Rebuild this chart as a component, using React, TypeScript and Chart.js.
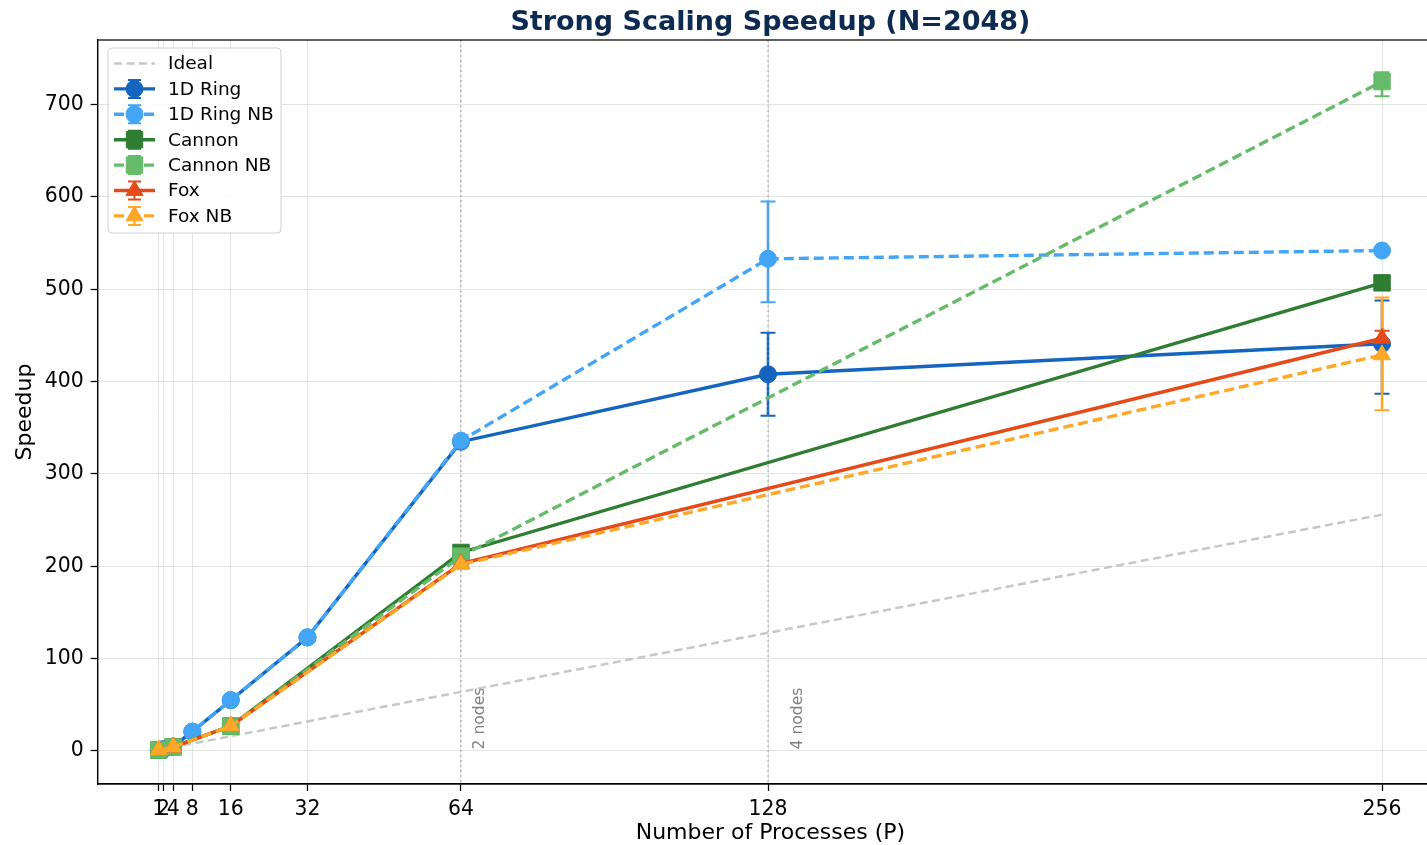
import React, { useEffect, useRef } from "react";
import { Chart, registerables } from "chart.js";

Chart.register(...registerables);

// ---------- data ----------
const ringProcs = [1, 2, 4, 8, 16, 32, 64, 128, 256];
const gridProcs = [1, 4, 16, 64, 256];
const idealSpeedup = [1, 2, 4, 8, 16, 32, 64, 128, 256];

const ring1D = [1, 2, 4.9, 21, 55, 123, 335, 408, 441];
const ring1DErrLow = [0, 0, 0, 0.5, 1, 2, 3, 45, 54];
const ring1DErrHigh = [0, 0, 0, 0.5, 1, 2, 3, 45, 47];
const ring1DNB = [1, 2, 4.9, 21, 55, 123, 336, 533, 542];
const ring1DNBErrLow = [0, 0, 0, 0.5, 1, 2, 6, 47, 3];
const ring1DNBErrHigh = [0, 0, 0, 0.5, 1, 2, 6, 62, 3];

const cannon = [1, 4.5, 27, 215, 507];
const cannonErrLow = [0, 0, 0.5, 5, 3];
const cannonErrHigh = [0, 0, 0.5, 5, 3];
const cannonNB = [1, 4.5, 27, 211, 725];
const cannonNBErrLow = [0, 0, 0.5, 2, 16];
const cannonNBErrHigh = [0, 0, 0.5, 2, 10];

const fox = [1, 4.3, 27, 203, 447];
const foxErrLow = [0, 0, 0.5, 1, 7];
const foxErrHigh = [0, 0, 0.5, 1, 8];
const foxNB = [1, 4.3, 27, 202, 429];
const foxNBErrLow = [0, 0, 0.5, 1, 60];
const foxNBErrHigh = [0, 0, 0.5, 1, 62];

const xTickValues = [1, 2, 4, 8, 16, 32, 64, 128, 256];
const yTickValues = [0, 100, 200, 300, 400, 500, 600, 700];

const nodeLineX = [64, 128];
const nodeLabels = ["2 nodes", "4 nodes"];
const nodeLabelX = [68, 134.3];

const titleText = "Strong Scaling Speedup (N=2048)";
const xLabel = "Number of Processes (P)";
const yLabel = "Speedup";

type Series = {
  label: string;
  x: number[];
  y: number[];
  lo: number[];
  hi: number[];
  color: string;
  dashed: boolean;
  marker: "circle" | "rect" | "triangle";
};

const seriesList: Series[] = [
  { label: "1D Ring", x: ringProcs, y: ring1D, lo: ring1DErrLow, hi: ring1DErrHigh, color: "#1565C0", dashed: false, marker: "circle" },
  { label: "1D Ring NB", x: ringProcs, y: ring1DNB, lo: ring1DNBErrLow, hi: ring1DNBErrHigh, color: "#42A5F5", dashed: true, marker: "circle" },
  { label: "Cannon", x: gridProcs, y: cannon, lo: cannonErrLow, hi: cannonErrHigh, color: "#2E7D32", dashed: false, marker: "rect" },
  { label: "Cannon NB", x: gridProcs, y: cannonNB, lo: cannonNBErrLow, hi: cannonNBErrHigh, color: "#66BB6A", dashed: true, marker: "rect" },
  { label: "Fox", x: gridProcs, y: fox, lo: foxErrLow, hi: foxErrHigh, color: "#E64A19", dashed: false, marker: "triangle" },
  { label: "Fox NB", x: gridProcs, y: foxNB, lo: foxNBErrLow, hi: foxNBErrHigh, color: "#FFA726", dashed: true, marker: "triangle" },
];

const FONT = "'DejaVu Sans', 'Liberation Sans', sans-serif";
const LINE_W = 3.4;
const LINE_DASH = [10, 5];
const IDEAL_DASH = [8, 4.5];
const IDEAL_COLOR = "#c8c8c8";

function markerRadius(m: string) {
  if (m === "rect") return 11.6;
  if (m === "triangle") return 9.8;
  return 8.5;
}

function drawMarker(ctx: CanvasRenderingContext2D, m: string, x: number, y: number, color: string) {
  ctx.save();
  ctx.setLineDash([]);
  ctx.fillStyle = color;
  ctx.strokeStyle = color;
  ctx.lineWidth = 1;
  ctx.beginPath();
  if (m === "circle") {
    ctx.arc(x, y, 8.5, 0, Math.PI * 2);
  } else if (m === "rect") {
    ctx.rect(x - 8.2, y - 8.2, 16.4, 16.4);
  } else {
    const r = 9.8;
    for (let k = 0; k < 3; k++) {
      const a = (k * 2 * Math.PI) / 3;
      const px = x + Math.sin(a) * r;
      const py = y - Math.cos(a) * r;
      if (k === 0) ctx.moveTo(px, py);
      else ctx.lineTo(px, py);
    }
    ctx.closePath();
  }
  ctx.fill();
  ctx.stroke();
  ctx.restore();
}

const decorPlugin = {
  id: "decor",
  beforeDatasetsDraw(chart: any) {
    const { ctx, chartArea, scales } = chart;
    const xs = scales.x;
    const ys = scales.y;
    ctx.save();
    ctx.beginPath();
    ctx.rect(chartArea.left, chartArea.top, chartArea.right - chartArea.left, chartArea.bottom - chartArea.top);
    ctx.clip();
    // error bars
    seriesList.forEach((s) => {
      s.y.forEach((v, i) => {
        const lo = s.lo[i];
        const hi = s.hi[i];
        if (!lo && !hi) return;
        const px = xs.getPixelForValue(s.x[i]);
        const top = ys.getPixelForValue(v + hi);
        const bot = ys.getPixelForValue(v - lo);
        ctx.setLineDash([]);
        ctx.strokeStyle = s.color;
        ctx.lineWidth = 2.6;
        ctx.beginPath();
        ctx.moveTo(px, top);
        ctx.lineTo(px, bot);
        ctx.stroke();
        ctx.lineWidth = 2;
        ctx.beginPath();
        ctx.moveTo(px - 7.5, top);
        ctx.lineTo(px + 7.5, top);
        ctx.moveTo(px - 7.5, bot);
        ctx.lineTo(px + 7.5, bot);
        ctx.stroke();
      });
    });
    // node lines
    nodeLineX.forEach((v, i) => {
      const px = xs.getPixelForValue(v);
      ctx.strokeStyle = "rgba(140,140,140,0.4)";
      ctx.lineWidth = 2;
      ctx.setLineDash([2, 3]);
      ctx.beginPath();
      ctx.moveTo(px, chartArea.top);
      ctx.lineTo(px, chartArea.bottom);
      ctx.stroke();
      ctx.setLineDash([]);
      const tx = xs.getPixelForValue(nodeLabelX[i]);
      const ty = ys.getPixelForValue(0) - 1.5;
      ctx.save();
      ctx.translate(tx, ty);
      ctx.rotate(-Math.PI / 2);
      ctx.fillStyle = "#808080";
      ctx.font = `15.6px ${FONT}`;
      ctx.textAlign = "left";
      ctx.textBaseline = "middle";
      ctx.fillText(nodeLabels[i], 0, 0);
      ctx.restore();
    });
    ctx.restore();
  },
  afterDraw(chart: any) {
    const { ctx, chartArea } = chart;
    ctx.save();
    // spines
    ctx.strokeStyle = "#000";
    ctx.lineWidth = 1.25;
    ctx.setLineDash([]);
    ctx.strokeRect(chartArea.left, chartArea.top, chartArea.right - chartArea.left, chartArea.bottom - chartArea.top);
    const cx = (chartArea.left + chartArea.right) / 2;
    // title
    ctx.fillStyle = "#0d2a50";
    ctx.font = `bold 27px ${FONT}`;
    ctx.textAlign = "center";
    ctx.textBaseline = "alphabetic";
    ctx.fillText(titleText, cx, 30);
    // axis labels
    ctx.fillStyle = "#000";
    ctx.font = `22px ${FONT}`;
    ctx.fillText(xLabel, cx, 839);
    ctx.save();
    ctx.translate(31, (chartArea.top + chartArea.bottom) / 2);
    ctx.rotate(-Math.PI / 2);
    ctx.fillText(yLabel, 0, 0);
    ctx.restore();

    // legend
    const lx = 108, ly = 48, lw = 173, lh = 185, r = 4;
    ctx.beginPath();
    ctx.moveTo(lx + r, ly);
    ctx.arcTo(lx + lw, ly, lx + lw, ly + lh, r);
    ctx.arcTo(lx + lw, ly + lh, lx, ly + lh, r);
    ctx.arcTo(lx, ly + lh, lx, ly, r);
    ctx.arcTo(lx, ly, lx + lw, ly, r);
    ctx.closePath();
    ctx.fillStyle = "rgba(255,255,255,0.85)";
    ctx.fill();
    ctx.strokeStyle = "#d0d0d0";
    ctx.lineWidth = 1;
    ctx.stroke();

    const rowH = 25.4;
    const x0 = 114, x1 = 155, xm = 134.5, tx = 168;
    ctx.font = `18.5px ${FONT}`;
    ctx.textAlign = "left";
    ctx.textBaseline = "middle";
    // ideal
    let ry = 63.5;
    ctx.strokeStyle = IDEAL_COLOR;
    ctx.lineWidth = 2.5;
    ctx.setLineDash(IDEAL_DASH);
    ctx.beginPath();
    ctx.moveTo(x0, ry);
    ctx.lineTo(x1, ry);
    ctx.stroke();
    ctx.setLineDash([]);
    ctx.fillStyle = "#000";
    ctx.fillText("Ideal", tx, ry + 1);
    seriesList.forEach((s, i) => {
      ry = 63.5 + rowH * (i + 1);
      ctx.strokeStyle = s.color;
      ctx.lineWidth = LINE_W;
      ctx.setLineDash(s.dashed ? LINE_DASH : []);
      ctx.beginPath();
      ctx.moveTo(x0, ry);
      ctx.lineTo(x1, ry);
      ctx.stroke();
      ctx.setLineDash([]);
      ctx.lineWidth = 2;
      ctx.beginPath();
      ctx.moveTo(xm, ry - 9);
      ctx.lineTo(xm, ry + 9);
      ctx.moveTo(xm - 6.5, ry - 9);
      ctx.lineTo(xm + 6.5, ry - 9);
      ctx.moveTo(xm - 6.5, ry + 9);
      ctx.lineTo(xm + 6.5, ry + 9);
      ctx.stroke();
      drawMarker(ctx, s.marker, xm, ry, s.color);
      ctx.fillStyle = "#000";
      ctx.fillText(s.label, tx, ry + 1);
    });
    ctx.restore();
  },
};

export default function App() {
  const ref = useRef<HTMLCanvasElement | null>(null);
  useEffect(() => {
    if (!ref.current) return;
    Chart.defaults.font.family = FONT;
    const n = seriesList.length;
    const datasets: any[] = [
      {
        label: "Ideal",
        data: ringProcs.map((p, i) => ({ x: p, y: idealSpeedup[i] })),
        borderColor: IDEAL_COLOR,
        borderWidth: 2.5,
        borderDash: IDEAL_DASH,
        pointRadius: 0,
        fill: false,
        tension: 0,
        order: n + 1,
      },
      ...seriesList.map((s, k) => ({
        label: s.label,
        data: s.x.map((p, i) => ({ x: p, y: s.y[i] })),
        borderColor: s.color,
        backgroundColor: s.color,
        borderWidth: LINE_W,
        borderDash: s.dashed ? LINE_DASH : [],
        pointStyle: s.marker,
        pointRadius: markerRadius(s.marker),
        pointBackgroundColor: s.color,
        pointBorderColor: s.color,
        pointBorderWidth: 1,
        fill: false,
        tension: 0,
        order: n - k,
      })),
    ];
    const chart = new Chart(ref.current, {
      type: "line",
      data: { datasets },
      options: {
        animation: false,
        responsive: false,
        devicePixelRatio: 1,
        layout: { padding: { top: 40, right: 16.8, left: 0, bottom: 0 } },
        plugins: {
          legend: { display: false },
          title: { display: false },
          tooltip: { enabled: false },
        },
        scales: {
          x: {
            type: "linear",
            min: -11.75,
            max: 268.75,
            afterBuildTicks: (scale: any) => {
              scale.ticks = xTickValues.map((v) => ({ value: v }));
            },
            afterFit: (scale: any) => {
              scale.height = 61;
            },
            ticks: {
              autoSkip: false,
              maxRotation: 0,
              minRotation: 0,
              padding: 6,
              color: "#000",
              font: { size: 20.4, family: FONT },
              callback: (v: any) => String(v),
            },
            grid: {
              color: "#e3e3e3",
              lineWidth: 1,
              drawTicks: true,
              tickLength: 7,
              tickColor: "#000",
              tickWidth: 1.25,
            },
            border: { display: true, color: "#000", width: 1.25 },
          },
          y: {
            type: "linear",
            min: -35.75,
            max: 770,
            afterBuildTicks: (scale: any) => {
              scale.ticks = yTickValues.map((v) => ({ value: v }));
            },
            afterFit: (scale: any) => {
              scale.width = 97.6;
            },
            ticks: {
              padding: 7,
              color: "#000",
              font: { size: 20.4, family: FONT },
              callback: (v: any) => String(v),
            },
            grid: {
              color: "#e3e3e3",
              lineWidth: 1,
              drawTicks: true,
              tickLength: 7,
              tickColor: "#000",
              tickWidth: 1.25,
            },
            border: { display: true, color: "#000", width: 1.25 },
          },
        },
      } as any,
      plugins: [decorPlugin],
    });
    return () => chart.destroy();
  }, []);
  return (
    <div
      style={{
        position: "fixed",
        left: 0,
        top: 0,
        width: 1427,
        height: 845,
        overflow: "hidden",
        background: "#fff",
      }}
    >
      <canvas ref={ref} width={1460} height={845} style={{ width: 1460, height: 845, display: "block" }} />
    </div>
  );
}
